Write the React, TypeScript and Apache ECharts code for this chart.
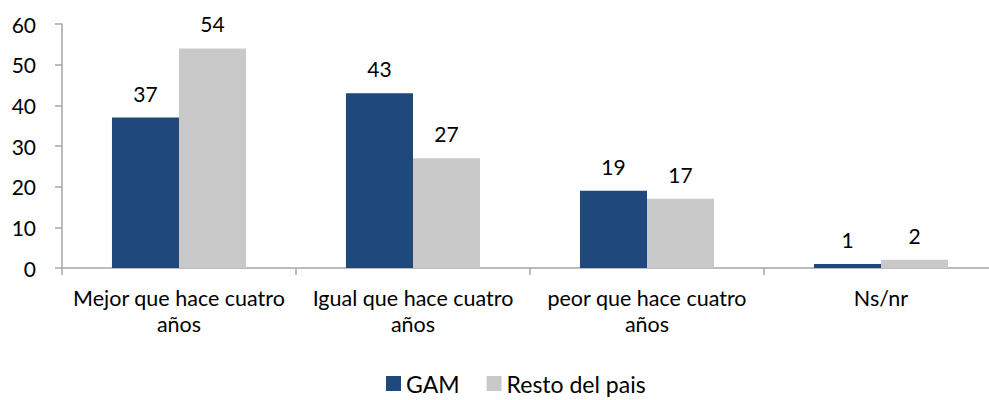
import React, { useEffect, useRef } from "react";
import * as echarts from "echarts";

const categories = [
  "Mejor que hace cuatro\naños",
  "Igual que hace cuatro\naños",
  "peor que hace cuatro\naños",
  "Ns/nr",
];
const gam = [37, 43, 19, 1];
const resto = [54, 27, 17, 2];
const seriesNames = ["GAM", "Resto del pais"];

const FONT = "Lato";
const FS = 21;

export default function App() {
  const ref = useRef<HTMLDivElement>(null);
  useEffect(() => {
    if (!ref.current) return;
    const chart = echarts.init(ref.current, null, { renderer: "svg" });
    const label = {
      show: true,
      position: "top" as const,
      distance: 14,
      fontSize: FS,
      fontFamily: FONT,
      color: "#000",
    };
    chart.setOption({
      animation: false,
      grid: { left: 62, top: 24, height: 244, width: 936, containLabel: false },
      legend: {
        data: seriesNames,
        top: 367,
        left: 381,
        itemWidth: 15,
        itemHeight: 15,
        itemGap: 27,
        icon: "rect",
        textStyle: { fontSize: 23, fontFamily: FONT, color: "#000" },
      },
      xAxis: {
        type: "category",
        data: categories,
        axisLine: { lineStyle: { color: "#A6A6A6", width: 1.5 } },
        axisTick: { show: true, length: 7, lineStyle: { color: "#A6A6A6", width: 1.5 } },
        axisLabel: {
          fontSize: 21.5,
          fontFamily: FONT,
          color: "#000",
          margin: 17,
          lineHeight: 26,
          interval: 0,
        },
      },
      yAxis: {
        type: "value",
        min: 0,
        max: 60,
        interval: 10,
        splitLine: { show: false },
        axisLine: { show: true, lineStyle: { color: "#A6A6A6", width: 1.5 } },
        axisTick: { show: true, length: 7, lineStyle: { color: "#A6A6A6", width: 1.5 } },
        axisLabel: { fontSize: FS, fontFamily: FONT, color: "#000", margin: 26 },
      },
      series: [
        {
          name: seriesNames[0],
          type: "bar",
          data: gam,
          itemStyle: { color: "#1F497D" },
          barGap: "0%",
          barCategoryGap: "42.7%",
          label,
        },
        {
          name: seriesNames[1],
          type: "bar",
          data: resto,
          itemStyle: { color: "#C9C9C9" },
          barGap: "0%",
          barCategoryGap: "42.7%",
          label,
        },
      ],
    });
    return () => chart.dispose();
  }, []);
  return (
    <div
      style={{
        position: "fixed",
        left: 0,
        top: 0,
        width: 989,
        height: 400,
        overflow: "hidden",
        background: "#fff",
      }}
    >
      <div ref={ref} style={{ width: 1010, height: 400 }} />
    </div>
  );
}
